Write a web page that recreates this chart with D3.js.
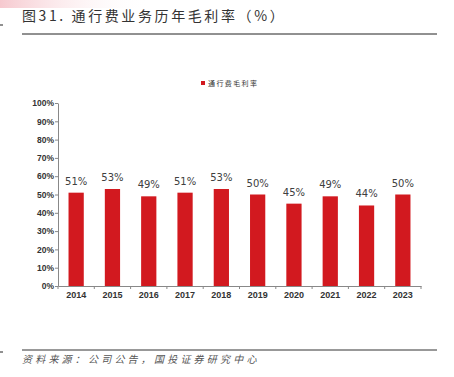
<!DOCTYPE html>
<html>
<head>
<meta charset="utf-8">
<script src="https://cdn.jsdelivr.net/npm/d3@7"></script>
<style>
body { margin: 0; background: #fff; }
svg { display: block; }
</style>
</head>
<body>
<div id="chart"></div>
<script>
// data
const years = ["2014", "2015", "2016", "2017", "2018", "2019", "2020", "2021", "2022", "2023"];
const margins = [51, 53, 49, 51, 53, 50, 45, 49, 44, 50];
const yTicks = [0, 10, 20, 30, 40, 50, 60, 70, 80, 90, 100];
const seriesName = "通行费毛利率";
const title = "图31. 通行费业务历年毛利率（%）";
const source = "资料来源：公司公告，国投证券研究中心";

const W = 454, H = 377;
const svg = d3.select("#chart").append("svg")
	.attr("width", W)
	.attr("height", H);

/*
Top-left pink wash
*/
const defs = svg.append("defs");
const grad = defs.append("linearGradient")
	.attr("id", "wash")
	.attr("x1", "0").attr("y1", "0")
	.attr("x2", "1").attr("y2", "0");
grad.append("stop").attr("offset", "0").attr("stop-color", "#f6c9cf");
grad.append("stop").attr("offset", "1").attr("stop-color", "#ffffff").attr("stop-opacity", 0);
svg.append("rect")
	.attr("x", 0).attr("y", 0)
	.attr("width", 150).attr("height", 8)
	.attr("fill", "url(#wash)");

/*
Title and rules
*/
svg.append("text")
	.attr("x", 22)
	.attr("y", 21)
	.attr("font-family", "Noto Sans CJK SC")
	.attr("font-size", 14)
	.attr("letter-spacing", 2.6)
	.attr("fill", "#333")
	.text(title);
svg.append("line")
	.attr("x1", 22).attr("x2", 437)
	.attr("y1", 34).attr("y2", 34)
	.attr("stroke", "#222").attr("stroke-width", 1);
svg.append("line")
	.attr("x1", 0).attr("x2", 3)
	.attr("y1", 25).attr("y2", 25)
	.attr("stroke", "#222").attr("stroke-width", 1);

svg.append("line")
	.attr("x1", 22).attr("x2", 437)
	.attr("y1", 350).attr("y2", 350)
	.attr("stroke", "#333").attr("stroke-width", 1);
svg.append("line")
	.attr("x1", 0).attr("x2", 3)
	.attr("y1", 352).attr("y2", 352)
	.attr("stroke", "#222").attr("stroke-width", 1);
svg.append("text")
	.attr("x", 22)
	.attr("y", 363)
	.attr("font-family", "Noto Sans CJK SC")
	.attr("font-size", 10)
	.attr("font-style", "italic")
	.attr("letter-spacing", 3.2)
	.attr("fill", "#555")
	.text(source);

/*
Scales
*/
const x = d3.scaleBand()
	.domain(years)
	.range([58, 421])
	.paddingInner(0.58)
	.paddingOuter(0.29);
const y = d3.scaleLinear()
	.domain([0, 100])
	.range([286, 103]);

/*
Axes
*/
const yAxis = svg.append("g")
	.attr("transform", "translate(58,0)")
	.call(d3.axisLeft(y).tickValues(yTicks).tickFormat(d => d + "%").tickSize(3).tickSizeOuter(0));
yAxis.select(".domain").attr("stroke", "#888");
yAxis.selectAll(".tick line").attr("stroke", "#888");
yAxis.selectAll("text")
	.attr("font-family", "Liberation Sans")
	.attr("font-size", 8.5)
	.attr("font-weight", "bold")
	.attr("fill", "#333")
	.attr("x", -4);

const xAxis = svg.append("g")
	.attr("transform", "translate(0,286)")
	.call(d3.axisBottom(x).tickSize(0));
xAxis.select(".domain").attr("stroke", "#888");
xAxis.selectAll("text")
	.attr("font-family", "Liberation Sans")
	.attr("font-size", 9)
	.attr("font-weight", "bold")
	.attr("fill", "#333")
	.attr("dy", "0.71em")
	.attr("y", 6);
// separators between categories
const step = x.step();
xAxis.selectAll(".sep")
	.data(d3.range(years.length + 1))
	.enter()
	.append("line")
	.attr("class", "sep")
	.attr("x1", i => 58 + i * step)
	.attr("x2", i => 58 + i * step)
	.attr("y1", 0).attr("y2", 3)
	.attr("stroke", "#888");

/*
Bars and labels
*/
svg.selectAll(".bar")
	.data(margins)
	.enter()
	.append("rect")
	.attr("class", "bar")
	.attr("x", (d, i) => x(years[i]))
	.attr("y", d => y(d))
	.attr("width", x.bandwidth())
	.attr("height", d => y(0) - y(d))
	.attr("fill", "#d2191f");

svg.selectAll(".val")
	.data(margins)
	.enter()
	.append("text")
	.attr("class", "val")
	.attr("x", (d, i) => x(years[i]) + x.bandwidth() / 2)
	.attr("y", d => y(d) - 8)
	.attr("text-anchor", "middle")
	.attr("font-family", "DejaVu Sans")
	.attr("font-size", 10)
	.attr("fill", "#404040")
	.text(d => d + "%");

/*
Legend
*/
svg.append("rect")
	.attr("x", 201).attr("y", 81)
	.attr("width", 4).attr("height", 4)
	.attr("fill", "#d2191f");
svg.append("text")
	.attr("x", 208)
	.attr("y", 86)
	.attr("font-family", "Noto Sans CJK SC")
	.attr("font-size", 7)
	.attr("letter-spacing", 1.4)
	.attr("fill", "#333")
	.text(seriesName);
</script>
</body>
</html>
